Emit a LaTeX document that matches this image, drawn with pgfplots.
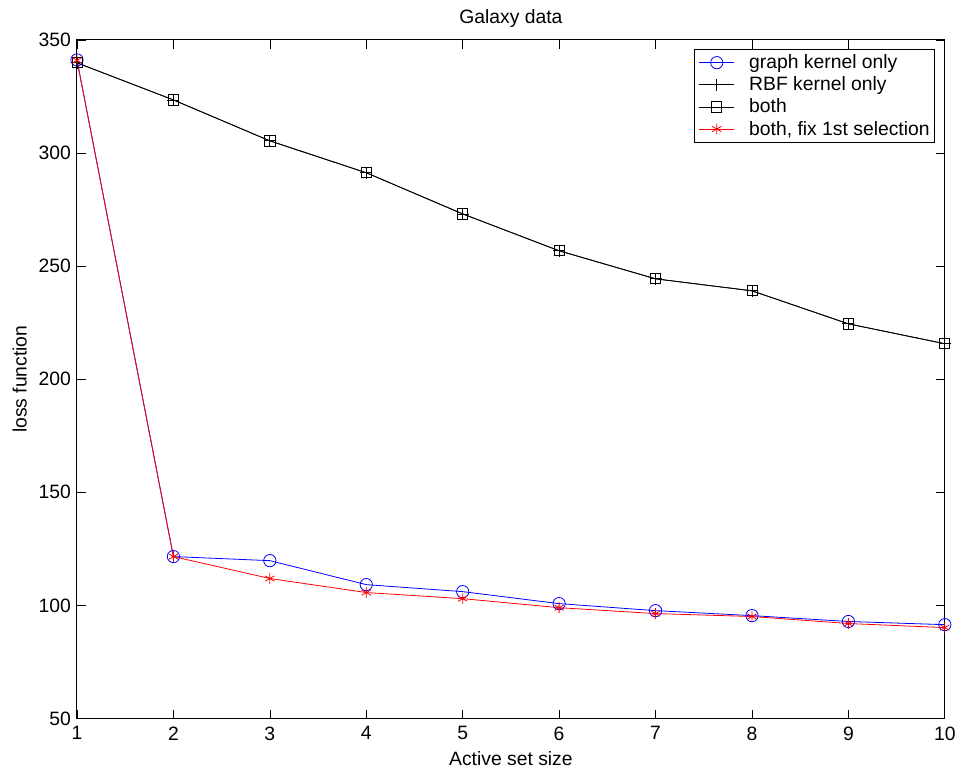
\documentclass[border=0pt]{standalone}
\usepackage{pgfplots}
\pgfplotsset{compat=1.18}
\usepackage{fontspec}
\setmainfont{Liberation Sans}

\begin{document}
\begin{tikzpicture}
\begin{axis}[
  scale only axis,
  width=651pt, height=509pt,
  xmin=1, xmax=10, ymin=50, ymax=350,
  xtick={1,...,10},
  ytick={50,100,...,350},
  tick align=inside,
  major tick length=6.5pt,
  tick style={black, line width=0.5pt},
  axis line style={line width=0.75pt},
  /pgf/number format/assume math mode=true,
  ticklabel style={font=\fontsize{14.5}{16}\selectfont},
  xticklabel style={yshift=-2.5pt},
  yticklabel style={xshift=-1pt},
  label style={font=\fontsize{14.5}{16}\selectfont},
  xlabel style={yshift=-1.5pt},
  ylabel style={yshift=2pt},
  title style={font=\fontsize{14.5}{16}\selectfont},
  title={Galaxy data},
  xlabel={Active set size},
  ylabel={loss function},
  legend style={at={(0.9885,0.987)}, anchor=north east,
    font=\fontsize{14.5}{16}\selectfont, draw=black, line width=0.75pt,
    inner xsep=1.5pt, inner ysep=2pt, row sep=0.6pt,
    cells={anchor=west}},
  legend cell align=left,
  legend image code/.code={%
    \path (-2pt,0pt) (35pt,0pt);
    \draw[mark repeat=2, mark phase=2, #1, line width=0.5pt]
      plot coordinates {(0pt,0pt) (13pt,0pt) (26pt,0pt)};},
]
\addplot[blue, line width=0.6pt, mark=o, mark size=4.6pt, mark options={line width=0.6pt}]
  coordinates {(1,341.2) (2,121.6) (3,119.8) (4,109.2) (5,106.1) (6,100.8) (7,97.7) (8,95.5) (9,92.9) (10,91.5)};
\addlegendentry{graph kernel only}
\addplot[black, line width=0.6pt, mark=+, mark size=4.5pt, mark options={line width=0.6pt}]
  coordinates {(1,339.9) (2,323.5) (3,305.4) (4,291.3) (5,273.1) (6,256.8) (7,244.4) (8,239.1) (9,224.5) (10,215.7)};
\addlegendentry{RBF kernel only}
\addplot[black, line width=0.6pt, mark=square, mark size=3.8pt, mark options={line width=0.6pt}]
  coordinates {(1,339.9) (2,323.5) (3,305.4) (4,291.3) (5,273.1) (6,256.8) (7,244.4) (8,239.1) (9,224.5) (10,215.7)};
\addlegendentry{both}
\addplot[red, line width=0.6pt, mark=asterisk, mark size=4pt, mark options={line width=0.6pt}]
  coordinates {(1,341.0) (2,121.6) (3,111.9) (4,105.7) (5,103.0) (6,99.0) (7,96.4) (8,95.1) (9,92.0) (10,90.2)};
\addlegendentry{both, fix 1st selection}
\end{axis}
\path (current axis.south west) ++(-57.75pt,-41.25pt) coordinate (bbsw);
\path (current axis.north east) ++(11.25pt,30pt) coordinate (bbne);
\path (bbsw) rectangle (bbne);
\end{tikzpicture}
\end{document}
